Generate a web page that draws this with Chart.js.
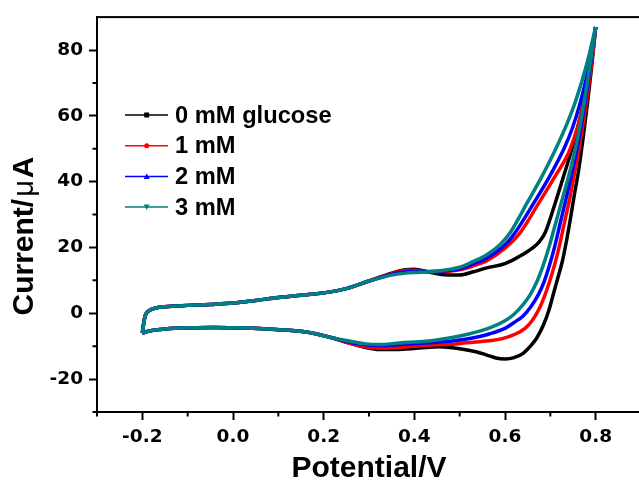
<!DOCTYPE html>
<html>
<head>
<meta charset="utf-8">
<script src="https://cdn.jsdelivr.net/npm/chart.js@4.4.0/dist/chart.umd.min.js"></script>
<style>
  body { margin: 0; overflow: hidden; background: #fff; }
  #wrap { width: 645px; height: 484px; }
</style>
</head>
<body>
<div id="wrap"><canvas id="cvChart"></canvas></div>
<script>
const seriesLabels = ['0 mM glucose', '1 mM', '2 mM', '3 mM'];
const seriesColors = ['#000000', '#FF0000', '#0000FF', '#008080'];

const xTicks = [-0.2, 0.0, 0.2, 0.4, 0.6, 0.8];
const xMinor = [-0.3, -0.1, 0.1, 0.3, 0.5, 0.7];
const yTicks = [-20, 0, 20, 40, 60, 80];
const yMinor = [-30, -10, 10, 30, 50, 70];

// each loop: anodic sweep -0.2 -> 0.8, then back to -0.2
// 0 mM glucose
const potential0 = [-0.2, -0.197, -0.193, -0.185, -0.17, -0.15, -0.1, -0.05, 0.0, 0.05, 0.1, 0.15, 0.2, 0.25, 0.3, 0.35, 0.38, 0.4, 0.43, 0.46, 0.5, 0.53, 0.56, 0.6, 0.637, 0.675, 0.689, 0.711, 0.73, 0.752, 0.77, 0.787, 0.8,
  0.792, 0.783, 0.773, 0.763, 0.753, 0.744, 0.735, 0.726, 0.716, 0.706, 0.697, 0.685, 0.67, 0.656, 0.64, 0.62, 0.6, 0.58, 0.56, 0.536, 0.5, 0.455, 0.426, 0.367, 0.323, 0.293, 0.25, 0.22, 0.162, 0.103, 0.03, -0.043, -0.116, -0.16, -0.182, -0.2];
const current0 = [-6, -3, -0.5, 0.8, 1.6, 2.0, 2.4, 2.7, 3.1, 3.9, 4.8, 5.5, 6.2, 7.5, 9.8, 12.2, 13.2, 13.4, 12.6, 11.8, 11.6, 12.6, 13.8, 15.1, 17.7, 21.6, 24.6, 33.6, 42, 52, 62, 74, 87,
  76, 65, 54, 44, 36, 28.5, 21.5, 15.5, 10.5, 5.5, 1, -3.5, -7.5, -10, -12.2, -13.5, -13.9, -13.6, -12.7, -11.7, -10.8, -10.2, -10.4, -11, -11, -10.4, -8.8, -7.5, -5.7, -5.0, -4.5, -4.3, -4.5, -4.9, -5.3, -6];

// 1 mM
const potential1 = [-0.2, -0.197, -0.193, -0.185, -0.17, -0.15, -0.1, -0.05, 0.0, 0.05, 0.1, 0.15, 0.2, 0.25, 0.3, 0.35, 0.38, 0.4, 0.43, 0.455, 0.5, 0.528, 0.56, 0.6, 0.634, 0.675, 0.71, 0.744, 0.774, 0.79, 0.8,
  0.791, 0.78, 0.767, 0.754, 0.743, 0.731, 0.72, 0.709, 0.698, 0.688, 0.676, 0.662, 0.645, 0.62, 0.594, 0.57, 0.53, 0.492, 0.426, 0.367, 0.323, 0.293, 0.25, 0.22, 0.162, 0.103, 0.03, -0.043, -0.116, -0.16, -0.182, -0.2];
const current1 = [-6, -3, -0.5, 0.8, 1.6, 2.0, 2.4, 2.7, 3.1, 3.9, 4.8, 5.5, 6.2, 7.5, 9.8, 12.0, 13.0, 13.1, 12.6, 12.6, 13.2, 14.3, 16.0, 19.8, 24.6, 33.6, 41.5, 50, 64, 76, 87,
  76, 64.5, 53, 43, 35, 27.5, 20.5, 14.5, 9.5, 5.5, 1.5, -1.8, -4.5, -6.5, -7.7, -8.3, -8.8, -9.3, -9.7, -10.4, -10.6, -10.2, -8.8, -7.5, -5.7, -5.0, -4.5, -4.3, -4.5, -4.9, -5.3, -6];

// 2 mM
const potential2 = [-0.2, -0.197, -0.193, -0.185, -0.17, -0.15, -0.1, -0.05, 0.0, 0.05, 0.1, 0.15, 0.2, 0.25, 0.3, 0.35, 0.38, 0.4, 0.43, 0.455, 0.5, 0.528, 0.56, 0.6, 0.623, 0.664, 0.7, 0.73, 0.748, 0.766, 0.785, 0.8,
  0.789, 0.777, 0.763, 0.748, 0.735, 0.722, 0.71, 0.698, 0.686, 0.673, 0.657, 0.64, 0.62, 0.601, 0.565, 0.528, 0.492, 0.426, 0.367, 0.323, 0.293, 0.25, 0.22, 0.162, 0.103, 0.03, -0.043, -0.116, -0.16, -0.182, -0.2];
const current2 = [-6, -3, -0.5, 0.8, 1.6, 2.0, 2.4, 2.7, 3.1, 3.9, 4.8, 5.5, 6.2, 7.5, 9.8, 11.8, 12.6, 12.8, 12.7, 12.8, 13.5, 14.9, 16.8, 20.8, 24.6, 33.6, 42, 50, 56, 64, 75, 87,
  76, 64.5, 53, 43, 35, 27.5, 20.5, 14.5, 9.5, 5.5, 2, -0.8, -2.8, -4.5, -6.3, -7.5, -8.3, -9.0, -9.5, -9.8, -9.6, -8.5, -7.5, -5.7, -5.0, -4.5, -4.3, -4.5, -4.9, -5.3, -6];

// 3 mM
const potential3 = [-0.2, -0.197, -0.193, -0.185, -0.17, -0.15, -0.1, -0.05, 0.0, 0.05, 0.1, 0.15, 0.2, 0.25, 0.3, 0.35, 0.38, 0.4, 0.43, 0.455, 0.5, 0.528, 0.56, 0.59, 0.612, 0.649, 0.68, 0.71, 0.735, 0.757, 0.78, 0.8,
  0.788, 0.775, 0.76, 0.743, 0.727, 0.712, 0.698, 0.684, 0.67, 0.655, 0.638, 0.62, 0.6, 0.565, 0.52, 0.477, 0.426, 0.367, 0.323, 0.293, 0.25, 0.22, 0.162, 0.103, 0.03, -0.043, -0.116, -0.16, -0.182, -0.2];
const current3 = [-6, -3, -0.5, 0.8, 1.6, 2.0, 2.4, 2.7, 3.1, 3.9, 4.8, 5.5, 6.2, 7.5, 9.8, 11.6, 12.2, 12.4, 12.6, 12.9, 14.0, 15.6, 17.8, 21.0, 24.6, 33.6, 41.2, 49.4, 57, 65, 75.5, 87,
  76, 64.5, 53, 43, 35, 27.5, 20.5, 14.5, 9.5, 5.5, 2.3, -0.3, -2.3, -4.5, -6.3, -7.5, -8.5, -9.0, -9.5, -9.3, -8.3, -7.5, -5.7, -5.0, -4.5, -4.3, -4.5, -4.9, -5.3, -6];

const potentials = [potential0, potential1, potential2, potential3];
const currents = [current0, current1, current2, current3];
const markers = ['rect', 'circle', 'triangle', 'triangleDown'];

function toPoints(xs, ys) {
  return xs.map((x, i) => ({ x: x, y: ys[i] }));
}

// split each loop into its forward and return sweep so the curve can follow x monotonically
const datasets = [];
seriesLabels.forEach((label, i) => {
  const pts = toPoints(potentials[i], currents[i]);
  const turn = potentials[i].indexOf(0.8);
  [pts.slice(0, turn + 1), pts.slice(turn)].forEach(part => {
    datasets.push({
      label: label,
      data: part,
      borderColor: seriesColors[i],
      backgroundColor: seriesColors[i],
      borderWidth: 3.5,
      showLine: true,
      pointRadius: 0,
      cubicInterpolationMode: 'monotone',
      fill: false,
      order: 3 - i
    });
  });
});

const tickFont = { family: 'DejaVu Sans', weight: 'bold', size: 18.5 };

// frame, minor ticks, y title, legend
const extras = {
  id: 'extras',
  afterDraw(chart) {
    const ctx = chart.ctx;
    const a = chart.chartArea;
    const xs = chart.scales.x;
    const ys = chart.scales.y;
    ctx.save();
    ctx.strokeStyle = '#000';
    ctx.lineWidth = 2;
    ctx.strokeRect(a.left, a.top, a.right - a.left, a.bottom - a.top);

    ctx.beginPath();
    xMinor.forEach(v => {
      const px = xs.getPixelForValue(v);
      ctx.moveTo(px, a.bottom);
      ctx.lineTo(px, a.bottom + 4.5);
    });
    yMinor.forEach(v => {
      const py = ys.getPixelForValue(v);
      ctx.moveTo(a.left, py);
      ctx.lineTo(a.left - 4.5, py);
    });
    ctx.stroke();

    // y title, mu in a lighter face like the original
    const parts = [
      { t: 'Current/', f: 'bold 30px "Liberation Sans", Arial, sans-serif', gap: 2 },
      { t: '\u03BC', f: '29px "Liberation Sans", Arial, sans-serif', gap: 2 },
      { t: 'A', f: 'bold 30px "Liberation Sans", Arial, sans-serif', gap: 0 }
    ];
    let total = 0;
    parts.forEach(p => { ctx.font = p.f; p.w = ctx.measureText(p.t).width; total += p.w + p.gap; });
    ctx.save();
    ctx.translate(25, 236);
    ctx.rotate(-Math.PI / 2);
    ctx.fillStyle = '#000';
    ctx.textAlign = 'left';
    ctx.textBaseline = 'middle';
    let tx = -total / 2;
    parts.forEach(p => {
      ctx.font = p.f;
      ctx.fillText(p.t, tx, 0);
      tx += p.w + p.gap;
    });
    ctx.restore();

    // legend
    ctx.font = 'bold 23.7px "Liberation Sans", Arial, sans-serif';
    ctx.textBaseline = 'middle';
    ctx.textAlign = 'left';
    seriesLabels.forEach((label, i) => {
      const y = 115 + i * 30.7;
      ctx.strokeStyle = seriesColors[i];
      ctx.fillStyle = seriesColors[i];
      ctx.lineWidth = 1.5;
      ctx.beginPath();
      ctx.moveTo(125, y);
      ctx.lineTo(168, y);
      ctx.stroke();
      const mx = 146.7;
      ctx.beginPath();
      if (markers[i] === 'rect') {
        ctx.rect(mx - 2.5, y - 2.5, 5, 5);
      } else if (markers[i] === 'circle') {
        ctx.arc(mx, y, 2.5, 0, Math.PI * 2);
      } else if (markers[i] === 'triangle') {
        ctx.moveTo(mx, y - 3); ctx.lineTo(mx + 3, y + 2.5); ctx.lineTo(mx - 3, y + 2.5);
      } else {
        ctx.moveTo(mx, y + 3); ctx.lineTo(mx + 3, y - 2.5); ctx.lineTo(mx - 3, y - 2.5);
      }
      ctx.fill();
      ctx.fillStyle = '#000';
      ctx.fillText(label, 175, y + 1);
    });
    ctx.restore();
  }
};

const config = {
  type: 'scatter',
  data: { datasets: datasets },
  options: {
    responsive: true,
    maintainAspectRatio: false,
    animation: false,
    devicePixelRatio: 1,
    layout: { padding: { left: 0, right: 4, top: 12, bottom: 0 } },
    plugins: {
      legend: { display: false },
      tooltip: { enabled: false }
    },
    scales: {
      x: {
        type: 'linear',
        min: -0.3,
        max: 0.9,
        afterBuildTicks: scale => { scale.ticks = xTicks.map(v => ({ value: v })); },
        afterFit: scale => { scale.height = 72; },
        ticks: {
          color: '#000',
          font: tickFont,
          padding: 6,
          maxRotation: 0,
          callback: v => v.toFixed(1)
        },
        grid: { drawOnChartArea: false, drawTicks: true, tickLength: 8, tickWidth: 2, tickColor: '#000' },
        border: { display: true, width: 2, color: '#000' },
        title: {
          display: true,
          text: 'Potential/V',
          color: '#000',
          font: { family: 'Liberation Sans', weight: 'bold', size: 30, lineHeight: 1 },
          padding: { top: 0, bottom: 0 }
        }
      },
      y: {
        type: 'linear',
        min: -30,
        max: 90,
        afterBuildTicks: scale => { scale.ticks = yTicks.map(v => ({ value: v })); },
        afterFit: scale => { scale.width = 97; },
        ticks: {
          color: '#000',
          font: tickFont,
          padding: 6,
          callback: v => String(v)
        },
        grid: { drawOnChartArea: false, drawTicks: true, tickLength: 8, tickWidth: 2, tickColor: '#000' },
        border: { display: true, width: 2, color: '#000' }
      }
    }
  },
  plugins: [extras]
};

const cvChart = new Chart(document.getElementById('cvChart'), config);
</script>
</body>
</html>
